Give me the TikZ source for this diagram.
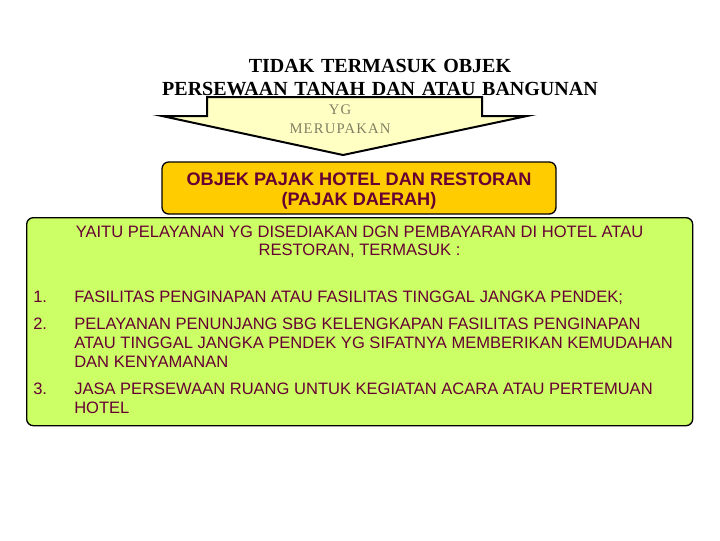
\documentclass[tikz,border=0pt]{standalone}
\usepackage{fontspec}
\setmainfont{Liberation Serif}
\setsansfont{Liberation Sans}
\usepackage{xcolor}
\usepackage{tikz}
\usetikzlibrary{positioning,calc}

\definecolor{kuningmuda}{RGB}{255,255,196}
\definecolor{emas}{RGB}{255,204,0}
\definecolor{hijaumuda}{RGB}{204,255,102}
\definecolor{marun}{RGB}{102,0,51}
\definecolor{abuzaitun}{RGB}{128,128,100}

\tikzset{
    isi/.style={anchor=base west, inner sep=0pt, text=marun, align=left, font=\sffamily\fontsize{12.4}{14.25}\selectfont},
    nomor/.style={isi}
}

\begin{document}
\begin{tikzpicture}[x=0.75pt, y=-0.75pt]
    \useasboundingbox (0,0) rectangle (720,540);

    % Arrow shape below the title
    \coordinate (pkiri) at (207,97);
    \coordinate (pkanan) at (482,97);
    \coordinate (ujung) at (343,155);
    \draw [line width=1.5pt, fill=kuningmuda, line join=miter]
        (pkiri) -- (pkanan) -- (482,116) -- (527,116) -- (ujung) -- (162,116) -- (207,116) -- cycle;

    % Title on top of the arrow
    \node [text width=480pt, align=center, inner sep=0pt, font=\bfseries\fontsize{15}{17.25}\selectfont] (judul) at (380,77.5) {
        TIDAK TERMASUK OBJEK\\
        PERSEWAAN TANAH DAN ATAU BANGUNAN
    };
    \node [align=center, inner sep=0pt, text=abuzaitun, font=\fontsize{11}{14.25}\selectfont\addfontfeature{LetterSpace=8}] (yg) at (340,119.5) {
        YG\\
        MERUPAKAN
    };

    % Green description box
    \node [rectangle, rounded corners=5pt, draw=black, line width=1pt, fill=hijaumuda, minimum width=499.5pt, minimum height=156pt, anchor=north west] (uraian) at (26,217) {};

    % Orange box on top
    \node [rectangle, rounded corners=5pt, draw=black, line width=1pt, fill=emas, minimum width=295.5pt, minimum height=39pt] (objek) at (359,188) {};
    \node [inner sep=0pt, text=marun, align=center, font=\sffamily\bfseries\fontsize{13.6}{15}\selectfont] (objekteks) at (359,191) {
        OBJEK PAJAK HOTEL DAN RESTORAN\\
        (PAJAK DAERAH)
    };

    % Text inside the green box
    \node [inner sep=0pt, text=marun, align=center, font=\sffamily\fontsize{12.4}{13.5}\selectfont] (pengantar) at (359.5,242) {
        YAITU PELAYANAN YG DISEDIAKAN DGN PEMBAYARAN DI HOTEL ATAU\\
        RESTORAN, TERMASUK :
    };

    \node [nomor] (n1) at (33,302.5) {1.};
    \node [nomor] (n2) at (33,329.5) {2.};
    \node [nomor] (n3) at (33,394.5) {3.};
    \node [isi] (b1) at (74,302.5) {FASILITAS PENGINAPAN ATAU FASILITAS TINGGAL JANGKA PENDEK;};
    \node [isi] (b2) at (74,367.5) {PELAYANAN PENUNJANG SBG KELENGKAPAN FASILITAS PENGINAPAN\\
        ATAU TINGGAL JANGKA PENDEK YG SIFATNYA MEMBERIKAN KEMUDAHAN\\
        DAN KENYAMANAN};
    \node [isi] (b3) at (74,413.5) {JASA PERSEWAAN RUANG UNTUK KEGIATAN ACARA ATAU PERTEMUAN\\
        HOTEL};

\end{tikzpicture}
\end{document}
